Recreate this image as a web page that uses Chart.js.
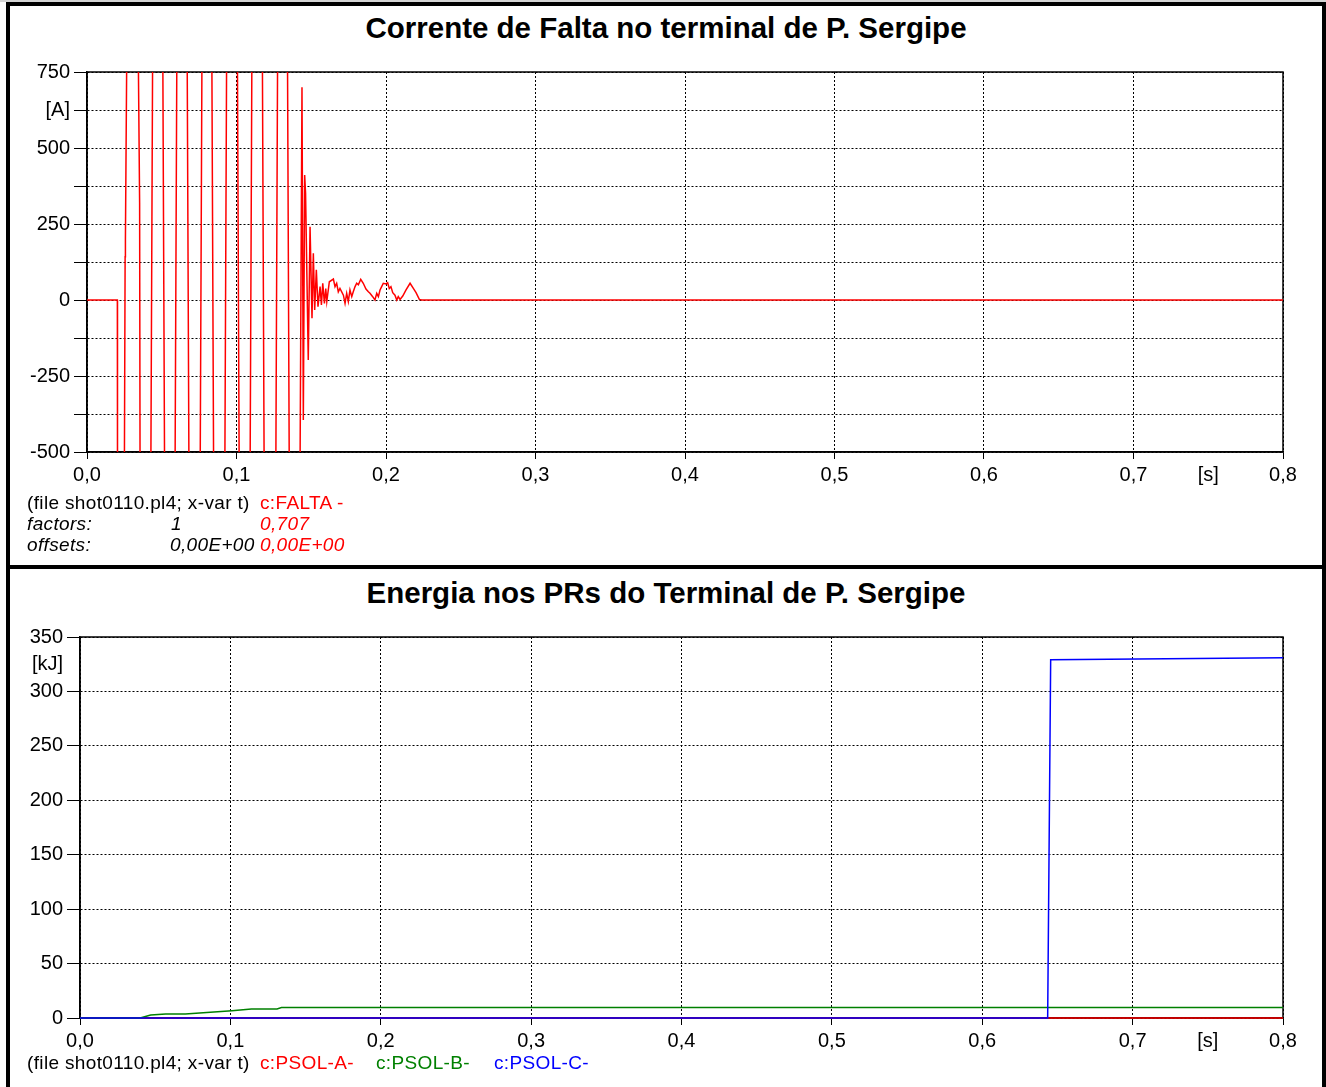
<!DOCTYPE html>
<html>
<head>
<meta charset="utf-8">
<script src="https://cdn.jsdelivr.net/npm/chart.js@4.4.0/dist/chart.umd.min.js"></script>
<style>
  body { margin:0; width:1326px; height:1087px; overflow:hidden; background:#fff; position:relative;
         font-family:"Liberation Sans", Arial, sans-serif; }
  .strip { position:absolute; left:0; top:0; width:1326px; height:2px; background:#d4d4d4; }
  .panel { position:absolute; left:6px; width:1312px; border:4px solid #000; }
  #p1 { top:2px; height:559px; }
  #p2 { top:565px; height:600px; }
  .title { position:absolute; left:3px; width:1326px; text-align:center; font-weight:bold; font-size:29.5px; line-height:29px; }
  .leg { position:absolute; font-size:19px; line-height:21px; letter-spacing:0.35px; white-space:pre; color:#000; }
  .red { color:#ff0000; } .green { color:#008000; } .blue { color:#0000ff; }
  .it { font-style:italic; }
  canvas { position:absolute; left:0; }
</style>
</head>
<body>
<div class="strip"></div>
<div class="panel" id="p1"></div>
<div class="panel" id="p2"></div>

<div class="title" style="top:13px">Corrente de Falta no terminal de P. Sergipe</div>
<canvas id="chart1" width="1326" height="566" style="top:0"></canvas>
<div class="leg" style="left:27px;top:492px">(file shot0110.pl4; x-var t)</div>
<div class="leg red" style="left:260px;top:492px">c:FALTA -</div>
<div class="leg it" style="left:27px;top:513px">factors:</div>
<div class="leg it" style="left:171px;top:513px">1</div>
<div class="leg it red" style="left:260px;top:513px">0,707</div>
<div class="leg it" style="left:27px;top:534px">offsets:</div>
<div class="leg it" style="left:170px;top:534px">0,00E+00</div>
<div class="leg it red" style="left:260px;top:534px">0,00E+00</div>

<div class="title" style="top:578px">Energia nos PRs do Terminal de P. Sergipe</div>
<canvas id="chart2" width="1326" height="521" style="top:566px"></canvas>
<div class="leg" style="left:27px;top:1052px">(file shot0110.pl4; x-var t)</div>
<div class="leg red" style="left:260px;top:1052px">c:PSOL-A-</div>
<div class="leg green" style="left:376px;top:1052px">c:PSOL-B-</div>
<div class="leg blue" style="left:494px;top:1052px">c:PSOL-C-</div>

<script>
// time axis (s)
var xTicks = [0, 0.1, 0.2, 0.3, 0.4, 0.5, 0.6, 0.7, 0.75, 0.8];
var xLabels = ["0,0", "0,1", "0,2", "0,3", "0,4", "0,5", "0,6", "0,7", "[s]", "0,8"];

// top chart: c:FALTA- [A]
var yTicksA = [-500, -375, -250, -125, 0, 125, 250, 375, 500, 625, 750];
var yLabelsA = ["-500", "", "-250", "", "0", "", "250", "", "500", "[A]", "750"];

// values beyond -500 / 750 are off scale (clipped in the plot)
var faltaT = [0, 0.0203, 0.0204, 0.0250, 0.0255, 0.0257, 0.0266, 0.0343, 0.0352, 0.0355,
  0.0427, 0.0439, 0.0507, 0.0519, 0.0589, 0.0601, 0.0670, 0.0682, 0.0757, 0.0769,
  0.0835, 0.0847, 0.0922, 0.0934, 0.1006, 0.1018, 0.1091, 0.1103, 0.1173, 0.1185,
  0.1263, 0.1275, 0.1341, 0.1353, 0.1425, 0.1438,
  0.1447, 0.1456, 0.1462, 0.1480, 0.1492, 0.1505, 0.1514, 0.1523, 0.1534, 0.1545,
  0.1559, 0.1568, 0.1577, 0.1588, 0.1597, 0.1604, 0.1621,
  0.1648, 0.1659, 0.1670, 0.1681, 0.1692, 0.1715, 0.1726, 0.1737, 0.1748, 0.1759,
  0.1771, 0.1781, 0.1793, 0.1804, 0.1815, 0.1831, 0.1848, 0.1866, 0.1882, 0.1893,
  0.1911, 0.1926, 0.1938, 0.1949, 0.1960, 0.1971, 0.1982, 0.2000, 0.2011, 0.2022,
  0.2033, 0.2045, 0.2060, 0.2072, 0.2082, 0.2094, 0.2112, 0.2134, 0.2161, 0.2183,
  0.2201, 0.2223, 0.2239, 0.8];
var faltaI = [0, 0, -560, -560, 142, 200, 810, 810, 320, -560,
  -560, 810, 810, -560, -560, 810, 810, -560, -560, 810,
  810, -560, -560, 810, 810, -560, -560, 810, 810, -560,
  -560, 810, 810, -560, -560, 700,
  -395, 411, 351, -197, 241, -60, 154, -33, 99, -22,
  44, -16, 55, -11, 38, -5, 60,
  69, 44, 55, 27, 38, 16, -11, 22, -5, 33,
  11, 27, 44, 55, 50, 68, 55, 36, 27, 22,
  11, 0, 22, 11, 33, 44, 55, 53, 57, 38,
  44, 24, 16, 0, 11, 2, 13, 33, 55, 38,
  24, 2, 0, 0];

// bottom chart: PSOL energies [kJ]
var yTicksB = [0, 50, 100, 150, 200, 250, 300, 325, 350];
var yLabelsB = ["0", "50", "100", "150", "200", "250", "300", "[kJ]", "350"];

var psolAT = [0, 0.8];
var psolA = [0, 0];
var psolBT = [0, 0.040, 0.047, 0.057, 0.070, 0.101, 0.114, 0.131, 0.134, 0.8];
var psolB = [0, 0, 2.8, 3.7, 3.7, 6.7, 8.3, 8.3, 9.6, 9.6];
var psolCT = [0, 0.6435, 0.6455, 0.8];
var psolC = [0, 0, 329, 331];

var fam = '"Liberation Sans", Arial, sans-serif';
var none = 'rgba(0,0,0,0)';

function pts(t, v) {
  var out = [];
  for (var i = 0; i < t.length; i++) out.push({x: t[i], y: v[i]});
  return out;
}

// solid box round the plot area, under the curves
var framePlugin = {
  id: 'frame',
  beforeDatasetsDraw: function(chart) {
    var a = chart.chartArea, c = chart.ctx;
    c.save();
    c.strokeStyle = '#000';
    c.lineWidth = 1.5;
    c.strokeRect(a.left, a.top, a.right - a.left, a.bottom - a.top);
    c.restore();
  }
};

function makeChart(id, datasets, yMin, yMax, yTicks, yLabels, yHidden, axisW, pad) {
  return new Chart(document.getElementById(id), {
    type: 'line',
    data: { datasets: datasets },
    plugins: [framePlugin],
    options: {
      responsive: false,
      animation: false,
      layout: { padding: pad },
      plugins: { legend: { display: false }, tooltip: { enabled: false } },
      elements: { point: { radius: 0 }, line: { tension: 0, borderWidth: 1.5 } },
      scales: {
        x: {
          type: 'linear', min: 0, max: 0.8,
          afterFit: function(s) { s.height = 40; },
          afterBuildTicks: function(s) { s.ticks = xTicks.map(function(v) { return {value: v}; }); },
          ticks: {
            autoSkip: false, maxRotation: 0, padding: 4, color: '#000',
            font: { family: fam, size: 20 },
            callback: function(v, i) { return xLabels[i]; }
          },
          grid: {
            color: function(ctx) { return ctx.tick && ctx.tick.value === 0.75 ? none : '#000'; },
            tickColor: function(ctx) { return ctx.tick && ctx.tick.value === 0.75 ? none : '#000'; },
            lineWidth: 1, tickLength: 7
          },
          border: { color: '#000', width: 1.5, dash: [2, 2] }
        },
        y: {
          type: 'linear', min: yMin, max: yMax,
          afterFit: function(s) { s.width = axisW; },
          afterBuildTicks: function(s) { s.ticks = yTicks.map(function(v) { return {value: v}; }); },
          ticks: {
            autoSkip: false, padding: 4, color: '#000',
            font: { family: fam, size: 20 },
            callback: function(v, i) { return yLabels[i]; }
          },
          grid: {
            color: function(ctx) { return ctx.tick && ctx.tick.value === yHidden ? none : '#000'; },
            tickColor: function(ctx) { return ctx.tick && ctx.tick.value === yHidden ? none : '#000'; },
            lineWidth: 1, tickLength: 13
          },
          border: { color: '#000', width: 1.5, dash: [2, 2] }
        }
      }
    }
  });
}

makeChart('chart1', [
  { data: pts(faltaT, faltaI), borderColor: '#ff0000' }
], -500, 750, yTicksA, yLabelsA, null, 87, { left: 0, top: 72, right: 43, bottom: 74 });

// higher order is drawn first, so C ends on top as in PlotXY
makeChart('chart2', [
  { data: pts(psolAT, psolA), borderColor: '#ff0000', clip: 2, order: 3 },
  { data: pts(psolBT, psolB), borderColor: '#008000', clip: 2, order: 2 },
  { data: pts(psolCT, psolC), borderColor: '#0000ff', clip: 2, order: 1 }
], 0, 350, yTicksB, yLabelsB, 325, 80, { left: 0, top: 71, right: 43, bottom: 29 });
</script>
</body>
</html>
